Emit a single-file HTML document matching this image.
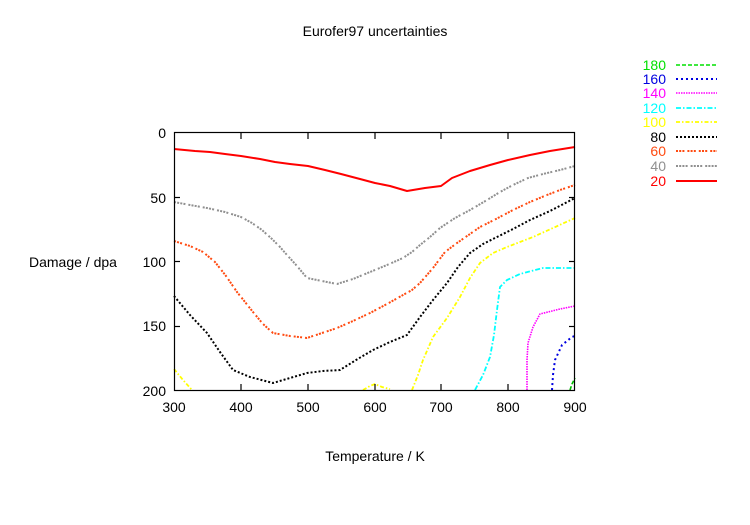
<!DOCTYPE html>
<html><head><meta charset="utf-8"><style>
html,body{margin:0;padding:0;background:#fff;}
svg{display:block;}
text{font-family:"Liberation Sans",Arial,sans-serif;font-size:14px;}
</style></head><body>
<svg width="750" height="525" viewBox="0 0 750 525" xmlns="http://www.w3.org/2000/svg">
<rect width="750" height="525" fill="#fff"/>
<text x="375" y="36" text-anchor="middle" fill="#000">Eurofer97 uncertainties</text>
<text x="29" y="267" fill="#000">Damage / dpa</text>
<text x="375" y="461" text-anchor="middle" fill="#000">Temperature / K</text>

<!-- y tick labels -->
<g fill="#000" text-anchor="end">
<text x="166" y="138">0</text>
<text x="166" y="203">50</text>
<text x="166" y="267">100</text>
<text x="166" y="331">150</text>
<text x="166" y="396">200</text>
</g>
<!-- x tick labels -->
<g fill="#000" text-anchor="middle">
<text x="174" y="412">300</text>
<text x="241" y="412">400</text>
<text x="308" y="412">500</text>
<text x="375" y="412">600</text>
<text x="441" y="412">700</text>
<text x="508" y="412">800</text>
<text x="575" y="412">900</text>
</g>

<!-- curves -->
<g fill="none" stroke-linejoin="round">
<!-- 180 green -->
<polyline stroke="#00c000" stroke-width="1.6" stroke-dasharray="4,2" points="570,390 572,384 575,378"/>
<!-- 160 blue -->
<polyline stroke="#0000e0" stroke-width="2" stroke-dasharray="2,3" points="552,390 553,375 555,360 562,345 572,337 575,336"/>
<!-- 140 magenta -->
<polyline stroke="#ff00ff" stroke-width="1.6" stroke-dasharray="1.5,1" points="527,390 527,360 528,343 533,327 540,314 560,309 575,306"/>
<!-- 120 cyan -->
<polyline stroke="#00ffff" stroke-width="1.8" stroke-dasharray="5,2,1.5,2" points="475,390 483,375 490,357 494,335 497,310 500,287 507,280 520,274 543,268 575,268"/>
<!-- 100 yellow -->
<polyline stroke="#ffff00" stroke-width="1.8" stroke-dasharray="4,2,1.5,2" points="174,369 183,380 192,390"/>
<polyline stroke="#ffff00" stroke-width="1.8" stroke-dasharray="4,2,1.5,2" points="363,390 370,386 375,384 382,387 390,389"/>
<polyline stroke="#ffff00" stroke-width="1.8" stroke-dasharray="4,2,1.5,2" points="412,390 418,375 423,360 433,337 447,318 460,297 470,278 480,263 493,253 507,247 533,237 553,228 575,218"/>
<!-- 80 black -->
<polyline stroke="#000" stroke-width="2" stroke-dasharray="2,2" points="174,296 190,315 207,333 220,352 233,370 250,377 273,383 290,378 307,373 323,371 340,370 356,360 373,350 390,342 407,335 420,317 433,300 447,283 458,267 470,253 483,244 497,237 513,229 530,220 550,211 575,198"/>
<!-- 60 orange -->
<polyline stroke="#ff4a10" stroke-width="2" stroke-dasharray="2,1.2,2,1.2,2,3" points="174,241 190,246 203,252 215,262 226,276 237,292 245,302 253,312 263,324 273,333 290,336 307,338 322,333 337,328 353,321 370,313 387,304 403,295 412,290 420,283 433,268 445,252 457,243 470,234 480,227 496,219 513,210 530,202 547,195 560,190 575,185"/>
<!-- 40 gray -->
<polyline stroke="#909090" stroke-width="2" stroke-dasharray="2,1.2,2,1.2,2,1.2,2,3" points="174,202 190,205 207,208 225,212 241,217 252,223 262,230 272,239 280,247 287,255 297,266 307,278 322,281 337,284 353,279 370,272 387,265 403,258 412,252 420,245 430,237 440,228 455,218 470,210 487,200 500,192 513,185 528,178 543,174 560,170 575,166"/>
<!-- 20 red -->
<polyline stroke="#ff0000" stroke-width="2" points="174,149 195,151 210,152 225,154 241,156 260,159 275,162 290,164 308,166 325,170 341,174 360,179 375,183 390,186 407,191 425,188 441,186 452,178 470,171 490,165 508,160 530,155 550,151 575,147"/>
</g>

<!-- frame -->
<rect x="174.5" y="132.5" width="400" height="258" fill="none" stroke="#000" stroke-width="1.2"/>
<g stroke="#000" stroke-width="1.2">
<line x1="241" y1="133" x2="241" y2="139"/><line x1="241" y1="390" x2="241" y2="384"/>
<line x1="308" y1="133" x2="308" y2="139"/><line x1="308" y1="390" x2="308" y2="384"/>
<line x1="375" y1="133" x2="375" y2="139"/><line x1="375" y1="390" x2="375" y2="384"/>
<line x1="441" y1="133" x2="441" y2="139"/><line x1="441" y1="390" x2="441" y2="384"/>
<line x1="508" y1="133" x2="508" y2="139"/><line x1="508" y1="390" x2="508" y2="384"/>
<line x1="174" y1="197.5" x2="180" y2="197.5"/><line x1="575" y1="197.5" x2="569" y2="197.5"/>
<line x1="174" y1="261.5" x2="180" y2="261.5"/><line x1="575" y1="261.5" x2="569" y2="261.5"/>
<line x1="174" y1="326.5" x2="180" y2="326.5"/><line x1="575" y1="326.5" x2="569" y2="326.5"/>
</g>

<!-- legend -->
<g text-anchor="end">
<text x="666" y="70" fill="#00e000">180</text>
<text x="666" y="84" fill="#0000e0">160</text>
<text x="666" y="98" fill="#ff00ff">140</text>
<text x="666" y="113" fill="#00ffff">120</text>
<text x="666" y="127" fill="#ffff00">100</text>
<text x="666" y="142" fill="#000">80</text>
<text x="666" y="156" fill="#ff4a10">60</text>
<text x="666" y="171" fill="#909090">40</text>
<text x="666" y="186" fill="#ff0000">20</text>
</g>
<g fill="none">
<line x1="676" y1="65" x2="717" y2="65" stroke="#00e000" stroke-width="1.6" stroke-dasharray="4,2"/>
<line x1="676" y1="79" x2="717" y2="79" stroke="#0000e0" stroke-width="2" stroke-dasharray="2,3"/>
<line x1="676" y1="93" x2="717" y2="93" stroke="#ff00ff" stroke-width="1.6" stroke-dasharray="1.5,1"/>
<line x1="676" y1="108" x2="717" y2="108" stroke="#00ffff" stroke-width="1.8" stroke-dasharray="5,2,1.5,2"/>
<line x1="676" y1="122" x2="717" y2="122" stroke="#ffff00" stroke-width="1.8" stroke-dasharray="4,2,1.5,2"/>
<line x1="676" y1="137" x2="717" y2="137" stroke="#000" stroke-width="2" stroke-dasharray="2,2"/>
<line x1="676" y1="151" x2="717" y2="151" stroke="#ff4a10" stroke-width="2" stroke-dasharray="2,1.2,2,1.2,2,3"/>
<line x1="676" y1="166" x2="717" y2="166" stroke="#909090" stroke-width="2" stroke-dasharray="2,1.2,2,1.2,2,1.2,2,3"/>
<line x1="676" y1="181" x2="717" y2="181" stroke="#ff0000" stroke-width="2"/>
</g>
</svg>
</body></html>
